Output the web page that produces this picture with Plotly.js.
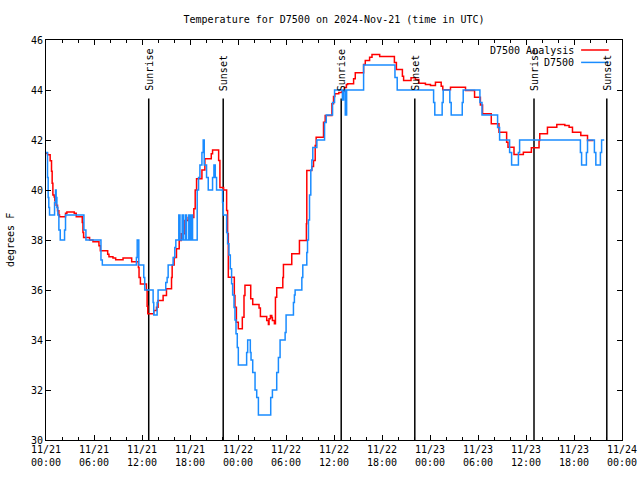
<!DOCTYPE html>
<html>
<head>
<meta charset="utf-8">
<script src="https://cdn.plot.ly/plotly-3.0.1.min.js"></script>
<style>html,body{margin:0;padding:0;background:#fff;}</style>
</head>
<body>
<div id="chart" style="width:640px;height:480px;"></div>
<script>
// Hours since 2024-11-21 00:00 UTC
var analysisHours = [0.00,0.19,0.52,0.69,0.77,0.86,1.02,1.10,1.27,1.44,1.61,1.69,2.44,2.61,3.53,3.78,4.53,4.62,4.70,5.45,5.87,6.62,6.79,7.71,7.87,8.37,8.71,9.63,10.71,11.55,11.63,11.80,12.55,12.64,12.72,13.47,13.81,14.01,14.64,15.06,15.69,15.77,16.02,16.31,16.65,16.90,17.36,17.77,18.48,18.65,18.82,19.49,19.86,20.66,20.82,21.58,21.74,22.20,22.58,22.70,22.79,23.54,23.62,23.80,24.04,24.54,24.75,24.87,25.59,25.84,26.63,26.80,27.59,27.80,27.88,28.05,28.22,28.30,28.55,28.68,28.84,29.60,29.68,30.72,31.68,32.55,32.60,33.23,33.44,33.65,33.77,34.69,34.90,35.74,35.94,36.10,36.60,37.00,37.30,37.55,37.70,38.45,38.66,39.70,39.91,40.45,40.75,41.71,43.55,43.80,44.55,44.70,45.63,46.18,46.60,47.43,48.06,48.68,49.40,49.60,50.56,52.44,53.57,54.30,54.57,55.66,56.62,57.58,57.75,58.50,59.67,60.67,61.63,61.72,62.68,63.85,64.85,65.39,65.81,66.85,67.69,68.44];
var analysisTemp = [41.47,41.41,41.17,40.75,40.27,39.8,39.72,39.57,39.39,39.17,39.0,38.93,39.07,39.12,39.07,38.93,38.7,38.3,38.1,38.0,37.93,37.77,37.57,37.43,37.33,37.28,37.21,37.28,37.13,36.9,36.5,36.24,36.0,35.35,35.05,35.18,35.31,35.58,35.78,36.05,36.5,37.0,37.3,37.65,37.98,38.25,38.78,38.9,39.25,40.0,40.45,40.8,41.25,41.45,41.6,41.18,40.1,40.0,39.18,38.25,36.51,35.78,35.31,34.71,34.45,34.91,35.78,36.19,35.65,35.42,35.28,34.94,34.78,34.62,34.85,34.98,34.9,34.78,34.65,35.71,36.09,36.5,37.02,37.45,37.98,38.65,40.78,40.94,41.18,41.78,42.11,42.71,42.98,43.45,43.74,43.85,43.9,43.95,44.1,44.22,44.25,44.45,44.69,45.02,45.18,45.31,45.42,45.34,45.1,44.82,44.55,44.38,44.49,44.42,44.27,44.22,44.18,44.31,44.15,44.01,44.11,43.98,43.71,43.4,43.05,42.65,42.31,41.91,41.71,41.42,41.51,41.69,41.98,42.25,42.51,42.62,42.58,42.51,42.31,42.18,41.98,41.98];

var stationHours = [0.00,0.19,0.27,0.35,0.44,1.07,1.19,1.27,1.36,1.48,1.61,1.78,2.32,2.44,4.74,4.99,6.87,7.04,11.30,11.40,11.60,12.22,12.34,13.39,13.47,13.89,14.01,14.97,15.14,15.27,15.89,16.10,16.23,16.60,16.75,17.02,17.17,17.42,17.57,17.85,18.00,18.15,18.32,18.90,19.07,19.24,19.49,19.65,19.78,20.07,20.28,20.82,20.99,21.16,21.32,22.07,22.16,22.58,22.70,22.87,23.04,23.20,23.33,23.50,23.62,23.75,23.91,24.04,25.08,25.21,25.54,25.63,25.84,26.13,26.34,26.55,28.09,28.30,28.84,29.05,29.26,29.89,30.01,30.93,31.05,31.14,31.98,32.10,32.60,32.69,32.81,32.94,33.10,33.23,33.35,33.86,34.82,35.03,35.82,36.07,37.05,37.20,37.41,37.58,39.70,43.62,43.90,48.45,48.60,49.52,49.65,50.48,50.65,52.03,52.15,54.24,54.50,56.45,56.70,57.95,58.20,59.05,59.20,66.80,66.95,67.55,67.69,68.55,68.73,69.30,69.45,69.78];
var stationTemp = [41.5,40.5,39.7,39.3,39,39.5,40,39.7,39.3,39,38.4,38,38.4,39,38.4,38,37.2,37,37.3,38,37,36.5,36,35.5,35,35.5,36,36.3,36.5,37,37.3,37.7,38,39,38,39,38,39,38,39,38,39,38,40,40.5,41,41.5,42,41,40.5,40,40.5,41,40.5,40,39.5,39,38.3,37.85,37.4,36.85,36.25,35.8,35.3,34.8,34.25,33.7,33,33.5,34,33.5,33.2,32.7,32,31.7,31,31.7,32,32.7,33.3,34,34.3,35,35.5,35.8,36,36.5,37,37.5,38,38.8,39.8,40.8,41.2,41.7,42,42.7,43,43.5,44,43.6,44,43,44,45,44.5,44,43.5,43,43.5,44,43.5,43,43.5,44,43.5,43,42.5,42,41.5,41,41.5,42,41.5,41,41.5,42,41.5,41,41.5,42,42];

var seriesNames = ['D7500 Analysis', 'D7500'];
var seriesColors = ['#ff0000', '#1a8cff'];

var sunHours = [12.84, 22.15, 36.90, 46.10, 61.00, 70.10];
var sunLabels = ['Sunrise', 'Sunset', 'Sunrise', 'Sunset', 'Sunrise', 'Sunset'];

var xTickVals = [0, 6, 12, 18, 24, 30, 36, 42, 48, 54, 60, 66, 72];
var xTickText = ['11/21<br>00:00','11/21<br>06:00','11/21<br>12:00','11/21<br>18:00','11/22<br>00:00','11/22<br>06:00','11/22<br>12:00','11/22<br>18:00','11/23<br>00:00','11/23<br>06:00','11/23<br>12:00','11/23<br>18:00','11/24<br>00:00'];

var FONT = 'DejaVu Sans Mono, monospace';

var traces = [
  {x: analysisHours, y: analysisTemp, name: seriesNames[0], type: 'scatter', mode: 'lines',
   line: {shape: 'hv', color: seriesColors[0], width: 1.5}},
  {x: stationHours, y: stationTemp, name: seriesNames[1], type: 'scatter', mode: 'lines',
   line: {shape: 'hv', color: seriesColors[1], width: 1.5}}
];

var shapes = [];
var annotations = [];
sunHours.forEach(function (h, i) {
  shapes.push({type: 'line', xref: 'x', yref: 'y', x0: h, x1: h, y0: 30, y1: 43.66,
               line: {color: 'black', width: 1.5}, layer: 'below'});
  annotations.push({xref: 'x', yref: 'y', x: h, y: 43.88, text: sunLabels[i], textangle: -90,
                    showarrow: false, xanchor: 'center', yanchor: 'bottom',
                    font: {family: FONT, size: 10, color: 'black'}});
});

// legend (gnuplot style: text right-aligned, sample to the right)
var legendRowsY = [0.975, 0.944];
seriesNames.forEach(function (n, i) {
  annotations.push({xref: 'paper', yref: 'paper', x: 0.921, y: legendRowsY[i], text: n,
                    showarrow: false, xanchor: 'right', yanchor: 'middle',
                    font: {family: FONT, size: 10, color: 'black'}});
  shapes.push({type: 'line', xref: 'paper', yref: 'paper', x0: 0.929, x1: 0.977,
               y0: legendRowsY[i], y1: legendRowsY[i], line: {color: seriesColors[i], width: 1.5}});
});

// y-axis title
annotations.push({xref: 'paper', yref: 'paper', x: -0.0625, y: 0.5, text: 'degrees F', textangle: -90,
                  showarrow: false, xanchor: 'center', yanchor: 'middle',
                  font: {family: FONT, size: 10, color: 'black'}});

var layout = {
  width: 640, height: 480,
  margin: {l: 46, r: 18, t: 40, b: 40, pad: 0},
  paper_bgcolor: 'white', plot_bgcolor: 'white',
  font: {family: FONT, size: 10, color: 'black'},
  title: {text: 'Temperature for D7500 on 2024-Nov-21 (time in UTC)', x: 0.5, xref: 'paper',
          y: 1 - 19 / 480, yref: 'container', yanchor: 'middle', font: {family: FONT, size: 10, color: 'black'}},
  showlegend: false,
  xaxis: {range: [0, 72], tickmode: 'array', tickvals: xTickVals, ticktext: xTickText,
          ticks: 'inside', ticklen: 5, tickcolor: 'black', tickwidth: 1,
          showline: true, linecolor: 'black', linewidth: 1, mirror: 'ticks',
          showgrid: false, zeroline: false,
          minor: {tickmode: 'linear', tick0: 0, dtick: 2, ticks: 'inside', ticklen: 3, tickcolor: 'black', showgrid: false},
          tickfont: {family: FONT, size: 10, color: 'black'}},
  yaxis: {range: [30, 46], tickmode: 'linear', tick0: 30, dtick: 2,
          ticks: 'inside', ticklen: 5, tickcolor: 'black', tickwidth: 1,
          showline: true, linecolor: 'black', linewidth: 1, mirror: 'ticks',
          showgrid: false, zeroline: false,
          tickfont: {family: FONT, size: 10, color: 'black'}},
  shapes: shapes,
  annotations: annotations
};

Plotly.newPlot('chart', traces, layout, {staticPlot: true, displayModeBar: false});
</script>
</body>
</html>
